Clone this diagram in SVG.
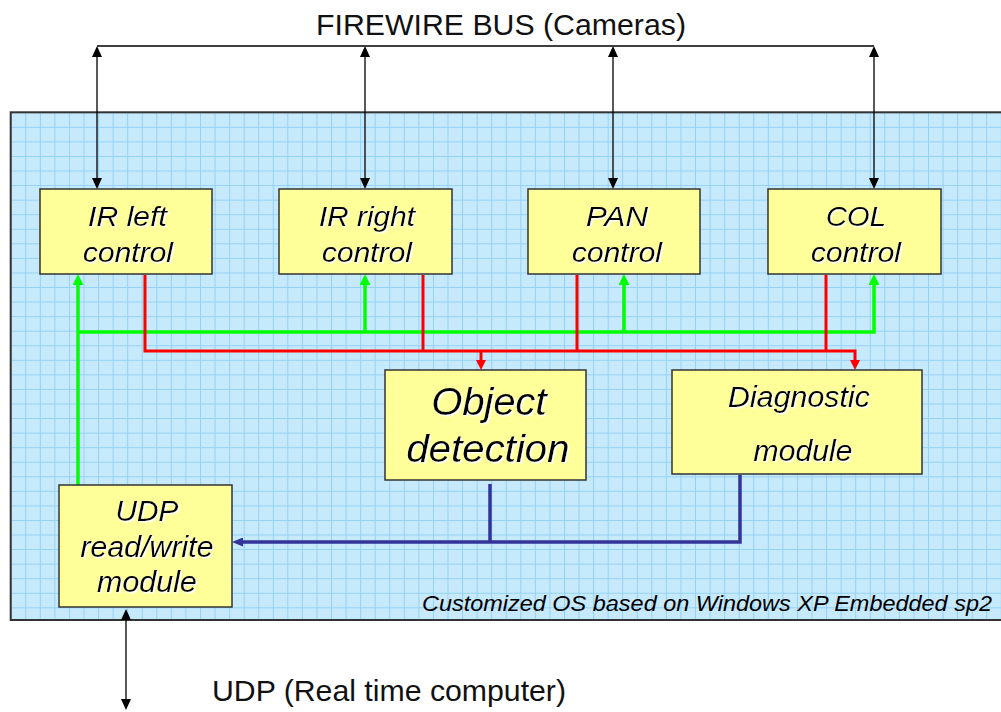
<svg xmlns="http://www.w3.org/2000/svg" width="1001" height="712" viewBox="0 0 1001 712">
<style>
.box{fill:#ffff99;stroke:#333;stroke-width:1.5}
.nt{font-family:"Liberation Sans",Arial,sans-serif;font-style:italic;fill:#000;text-anchor:middle}
.lbl{font-family:"Liberation Sans",Arial,sans-serif;fill:#111}
.blk{fill:none;stroke:#000;stroke-width:1.3}
.grn{fill:none;stroke:#00ff00;stroke-width:3.5}
.red{fill:none;stroke:#ff0000;stroke-width:3}
.blu{fill:none;stroke:#333399;stroke-width:3.5;stroke-linejoin:miter}
</style>
<defs>
<pattern id="grid" patternUnits="userSpaceOnUse" x="10.7" y="112.3" width="14.56" height="14.56">
<rect width="14.56" height="14.56" fill="#c7e9fc"/>
<path d="M0,0.5 H14.56 M0.5,0 V14.56" stroke="#93d2f6" stroke-width="1" fill="none"/>
</pattern>
<filter id="sh" x="-10%" y="-10%" width="130%" height="130%">
<feDropShadow dx="1.5" dy="1.5" stdDeviation="0" flood-color="#ffffff" flood-opacity="1"/>
</filter>
<marker id="aBlk" markerUnits="userSpaceOnUse" viewBox="0 0 11 10" markerWidth="11" markerHeight="10" refX="0" refY="5" orient="auto-start-reverse"><path d="M0,0 L11,5 L0,10 z" fill="#000"/></marker>
<marker id="aGrn" markerUnits="userSpaceOnUse" viewBox="0 0 11 11" markerWidth="11" markerHeight="11" refX="0" refY="5.5" orient="auto"><path d="M0,0 L11,5.5 L0,11 z" fill="#00ff00"/></marker>
<marker id="aRed" markerUnits="userSpaceOnUse" viewBox="0 0 10 10" markerWidth="10" markerHeight="10" refX="0" refY="5" orient="auto"><path d="M0,0 L10,5 L0,10 z" fill="#ff0000"/></marker>
<marker id="aBlu" markerUnits="userSpaceOnUse" viewBox="0 0 11 9" markerWidth="11" markerHeight="9" refX="0" refY="4.5" orient="auto"><path d="M0,0 L11,4.5 L0,9 z" fill="#333399"/></marker>
</defs>

<rect id="background" x="10.7" y="112.3" width="995" height="507.7" fill="url(#grid)" stroke="#333" stroke-width="2"/>

<text class="lbl" x="316" y="35" font-size="29.5" textLength="370" lengthAdjust="spacingAndGlyphs">FIREWIRE BUS (Cameras)</text>
<text class="lbl" x="212" y="701" font-size="29.5" textLength="354" lengthAdjust="spacingAndGlyphs">UDP (Real time computer)</text>
<text class="nt" x="422" y="611" font-size="22" style="text-anchor:start" textLength="570" lengthAdjust="spacingAndGlyphs">Customized OS based on Windows XP Embedded sp2</text>

<g id="connectors">
<path class="blk" d="M97,46 H874"/>
<path class="blk" d="M97,57 V178" marker-start="url(#aBlk)" marker-end="url(#aBlk)"/>
<path class="blk" d="M365,57 V178" marker-start="url(#aBlk)" marker-end="url(#aBlk)"/>
<path class="blk" d="M613,57 V178" marker-start="url(#aBlk)" marker-end="url(#aBlk)"/>
<path class="blk" d="M874,57 V178" marker-start="url(#aBlk)" marker-end="url(#aBlk)"/>
<path class="blk" d="M126,620 V699" marker-start="url(#aBlk)" marker-end="url(#aBlk)"/>

<path class="grn" d="M78,485 V285" marker-end="url(#aGrn)"/>
<path class="grn" d="M78,332 H874 V285" marker-end="url(#aGrn)"/>
<path class="grn" d="M365,332 V285" marker-end="url(#aGrn)"/>
<path class="grn" d="M624,332 V285" marker-end="url(#aGrn)"/>

<path class="red" d="M145,275 V351 H855 V360" marker-end="url(#aRed)"/>
<path class="red" d="M423,275 V351"/>
<path class="red" d="M577,275 V351"/>
<path class="red" d="M826,275 V351"/>
<path class="red" d="M481,351 V360" marker-end="url(#aRed)"/>

<path class="blu" d="M740,475 V542 H243" marker-end="url(#aBlu)"/>
<path class="blu" d="M490,484 V542"/>
</g>

<g id="ir-left">
<rect class="box" x="40" y="189" width="172" height="85"/>
<g filter="url(#sh)"><text class="nt" x="127.5" y="226" font-size="28" textLength="79" lengthAdjust="spacingAndGlyphs">IR left</text>
<text class="nt" x="128" y="262" font-size="28" textLength="90" lengthAdjust="spacingAndGlyphs">control</text></g>
</g>
<g id="ir-right">
<rect class="box" x="279" y="189" width="173" height="85"/>
<g filter="url(#sh)"><text class="nt" x="367" y="226" font-size="28" textLength="96" lengthAdjust="spacingAndGlyphs">IR right</text>
<text class="nt" x="367" y="262" font-size="28" textLength="90" lengthAdjust="spacingAndGlyphs">control</text></g>
</g>
<g id="pan">
<rect class="box" x="528" y="189" width="172" height="85"/>
<g filter="url(#sh)"><text class="nt" x="617" y="226" font-size="28" textLength="62" lengthAdjust="spacingAndGlyphs">PAN</text>
<text class="nt" x="617" y="262" font-size="28" textLength="90" lengthAdjust="spacingAndGlyphs">control</text></g>
</g>
<g id="col">
<rect class="box" x="768" y="189" width="173" height="85"/>
<g filter="url(#sh)"><text class="nt" x="856" y="226" font-size="28" textLength="60" lengthAdjust="spacingAndGlyphs">COL</text>
<text class="nt" x="856" y="262" font-size="28" textLength="90" lengthAdjust="spacingAndGlyphs">control</text></g>
</g>
<g id="object-detection">
<rect class="box" x="385" y="370" width="201" height="110"/>
<g filter="url(#sh)"><text class="nt" x="489" y="415" font-size="39" textLength="115" lengthAdjust="spacingAndGlyphs">Object</text>
<text class="nt" x="488" y="462" font-size="39" textLength="163" lengthAdjust="spacingAndGlyphs">detection</text></g>
</g>
<g id="diagnostic">
<rect class="box" x="672" y="370" width="250" height="104"/>
<g filter="url(#sh)"><text class="nt" x="799" y="407" font-size="29" textLength="142" lengthAdjust="spacingAndGlyphs">Diagnostic</text>
<text class="nt" x="803" y="461" font-size="29" textLength="99" lengthAdjust="spacingAndGlyphs">module</text></g>
</g>
<g id="udp">
<rect class="box" x="59" y="485" width="173" height="122"/>
<g filter="url(#sh)"><text class="nt" x="147" y="521" font-size="29" textLength="63" lengthAdjust="spacingAndGlyphs">UDP</text>
<text class="nt" x="147" y="557" font-size="29" textLength="133" lengthAdjust="spacingAndGlyphs">read/write</text>
<text class="nt" x="147" y="592" font-size="29" textLength="100" lengthAdjust="spacingAndGlyphs">module</text></g>
</g>
</svg>
